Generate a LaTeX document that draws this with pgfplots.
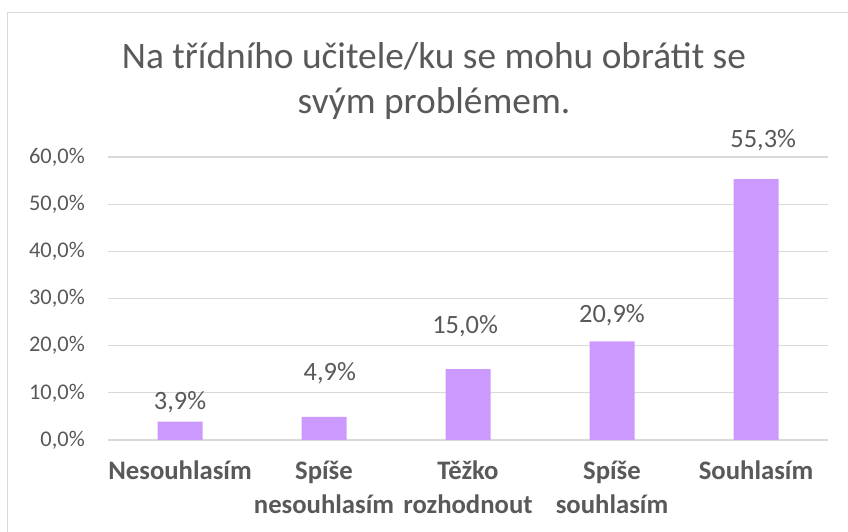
\documentclass[border=0pt]{standalone}
\usepackage{pgfplots}
\pgfplotsset{compat=1.18}
\usepackage{fontspec}
\setmainfont{Carlito}
\definecolor{barc}{HTML}{CC99FF}
\definecolor{txt}{HTML}{595959}
\definecolor{grd}{HTML}{D9D9D9}
\begin{document}
\begin{tikzpicture}
\useasboundingbox (0,0) rectangle (848bp,532bp);
\fill[white] (0,0) rectangle (848bp,532bp);
\draw[grd, line width=1.2bp] (7.5bp,-20bp) -- (7.5bp,519.5bp) -- (870bp,519.5bp);
\node[align=center, text=txt, font=\fontsize{37.5}{45}\selectfont, anchor=center] at (434bp,451bp) {Na třídního učitele/ku se mohu obrátit se\\svým problémem.};
\begin{axis}[
  at={(108bp,92bp)}, anchor=south west,
  width=720bp, height=283bp, scale only axis,
  xmin=-0.5, xmax=4.5, ymin=0, ymax=60,
  clip=false,
  axis line style={draw=none},
  tick style={draw=none},
  ymajorgrids, grid style={grd, line width=1.1bp},
  ytick={0,10,20,30,40,50,60},
  yticklabels={{0,0\%},{10,0\%},{20,0\%},{30,0\%},{40,0\%},{50,0\%},{60,0\%}},
  yticklabel style={font=\fontsize{22.5}{26}\selectfont, text=txt, anchor=east, inner sep=0pt, xshift=-23bp},
  xtick={0,1,2,3,4},
  xticklabels={Nesouhlasím,{Spíše\\nesouhlasím},{Těžko\\rozhodnout},{Spíše\\souhlasím},Souhlasím},
  xticklabel style={font=\bfseries\fontsize{26.8}{33.5}\selectfont, text=txt, align=center, anchor=north, inner sep=0pt, yshift=-21bp},
]
\addplot[ybar, bar width=45bp, fill=barc, draw=none] table[x=x,y=y] {
x y
0 3.9
1 4.9
2 15.0
3 20.9
4 55.3
};
\addplot[draw=none, mark=none, nodes near coords={\pgfplotspointmeta\%}, point meta=explicit symbolic,
  every node near coord/.append style={anchor=center, inner sep=0pt, font=\fontsize{26.5}{30}\selectfont, text=txt}]
  table[x=x,y=y,meta=lab] {
x y lab
0 8.1 3,9
1.04 14.2 4,9
1.98 24.2 15,0
3 26.5 20,9
4.05 63.6 55,3
};
\end{axis}
\end{tikzpicture}
\end{document}
